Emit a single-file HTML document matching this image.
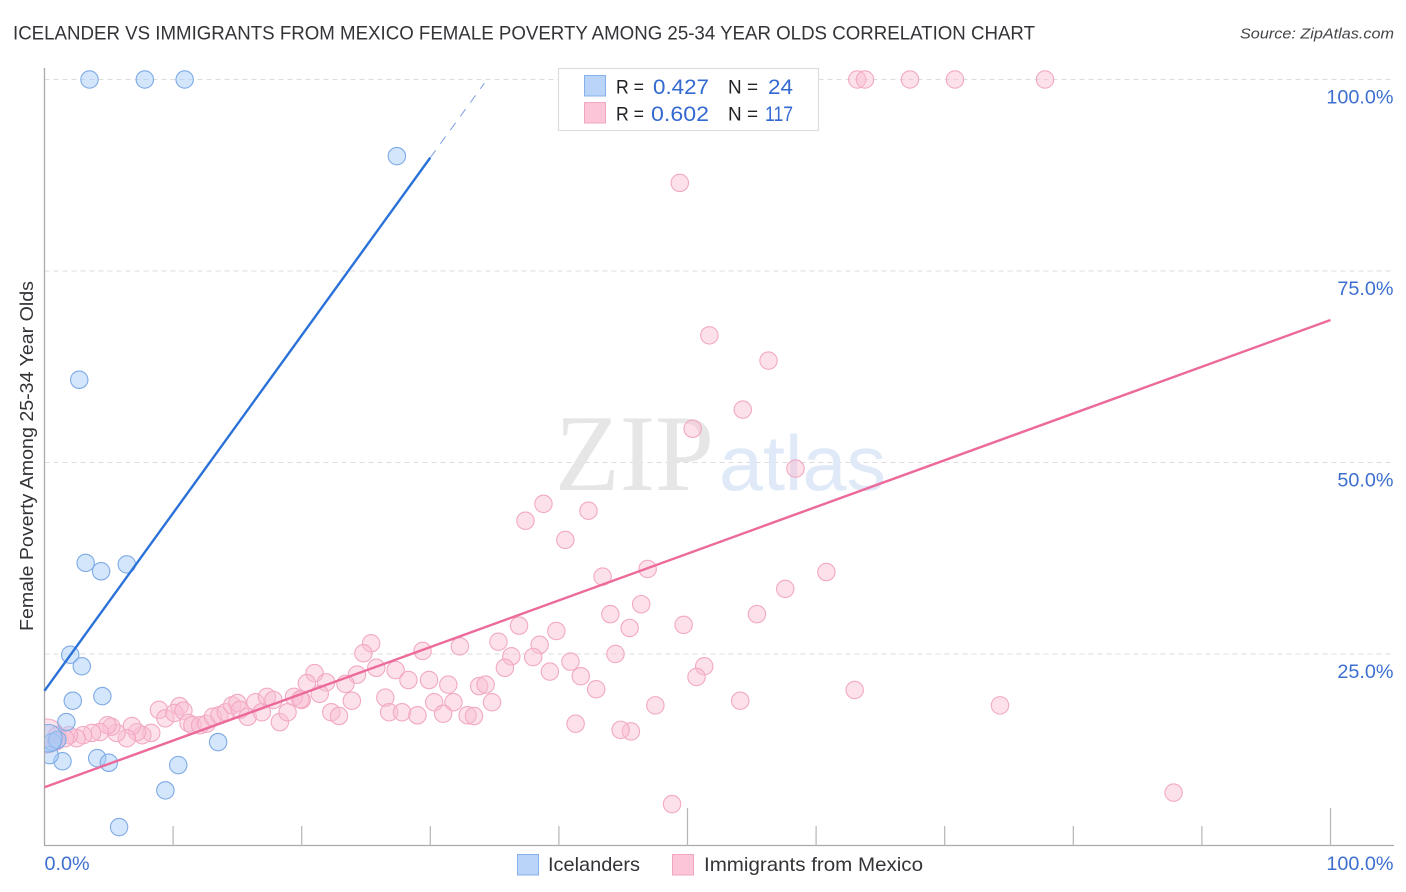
<!DOCTYPE html>
<html lang="en">
<head>
<meta charset="utf-8">
<title>Icelander vs Immigrants from Mexico Correlation Chart</title>
<style>
html,body{margin:0;padding:0;background:#fff;}
svg{display:block;font-family:"Liberation Sans",sans-serif;}
</style>
</head>
<body>
<svg id="chart" xmlns="http://www.w3.org/2000/svg" width="1406" height="892" viewBox="0 0 1406 892">
  <defs>
    <clipPath id="plot-clip"><rect x="45" y="60" width="1350" height="786"/></clipPath>
  </defs>
  <rect x="0" y="0" width="1406" height="892" fill="#ffffff"/>
  <text x="13" y="39.5" font-size="19.5" fill="#333338" textLength="1022" lengthAdjust="spacingAndGlyphs">ICELANDER VS IMMIGRANTS FROM MEXICO FEMALE POVERTY AMONG 25-34 YEAR OLDS CORRELATION CHART</text>
  <text x="1394" y="38.5" font-size="15" font-style="italic" fill="#444449" text-anchor="end" textLength="154" lengthAdjust="spacingAndGlyphs">Source: ZipAtlas.com</text>
  <g id="grid"></g>
  <g>
    <text x="555" y="490" font-family="'Liberation Serif',serif" font-size="109" fill="#e6e6e6" textLength="159" lengthAdjust="spacingAndGlyphs">ZIP</text>
    <text x="719" y="490" font-family="'Liberation Sans',sans-serif" font-size="78" fill="#dfe9f8" textLength="167" lengthAdjust="spacingAndGlyphs">atlas</text>
  </g>
  <g id="axes"></g>
  <g id="mex-points" clip-path="url(#plot-clip)"></g>
  <g id="ice-points" clip-path="url(#plot-clip)"></g>
  <g id="trends"></g>
  <g id="tick-labels"></g>
  <text transform="translate(33,456) rotate(-90)" font-size="18" fill="#333338" text-anchor="middle" textLength="350" lengthAdjust="spacingAndGlyphs">Female Poverty Among 25-34 Year Olds</text>
  <g>
    <rect x="558.5" y="68.5" width="260" height="62" fill="#ffffff" stroke="#dddddd" stroke-width="1.2"/>
    <rect x="584.5" y="75.5" width="21" height="20.5" fill="#b9d4f8" stroke="#85b0ea"/>
    <rect x="584.5" y="102.5" width="21" height="20.5" fill="#fcc5d8" stroke="#f2a6c0"/>
    <g font-size="19.5" fill="#222226">
      <text x="616" y="93.5" textLength="28" lengthAdjust="spacingAndGlyphs">R =</text>
      <text x="728" y="93.5" textLength="30" lengthAdjust="spacingAndGlyphs">N =</text>
      <text x="616" y="120.5" textLength="28" lengthAdjust="spacingAndGlyphs">R =</text>
      <text x="728" y="120.5" textLength="30" lengthAdjust="spacingAndGlyphs">N =</text>
    </g>
    <g font-size="21" fill="#3369d1">
      <text x="653" y="94" textLength="56" lengthAdjust="spacingAndGlyphs">0.427</text>
      <text x="768" y="94" textLength="25" lengthAdjust="spacingAndGlyphs">24</text>
      <text x="651" y="121" textLength="58" lengthAdjust="spacingAndGlyphs">0.602</text>
      <text x="765" y="121" textLength="28" lengthAdjust="spacingAndGlyphs">117</text>
    </g>
  </g>
  <g>
    <rect x="517.5" y="854.5" width="21" height="20.5" fill="#b9d4f8" stroke="#85b0ea"/>
    <text x="548" y="871" font-size="19.5" fill="#333338" textLength="92" lengthAdjust="spacingAndGlyphs">Icelanders</text>
    <rect x="672.5" y="854.5" width="21" height="20.5" fill="#fcc5d8" stroke="#f2a6c0"/>
    <text x="704" y="871" font-size="19.5" fill="#333338" textLength="219" lengthAdjust="spacingAndGlyphs">Immigrants from Mexico</text>
  </g>
</svg>
<script>
var xTickValues = [10, 20, 30, 40, 50, 60, 70, 80, 90, 100];
var xMajorTicks = [50, 100];
var xTickLabelValues = [0, 100];
var xTickLabels = ["0.0%", "100.0%"];
var yGridValues = [25, 50, 75, 100];
var yTickLabels = ["25.0%", "50.0%", "75.0%", "100.0%"];

var iceX = [3.5, 7.8, 10.9, 27.4, 2.7, 3.2, 4.4, 6.4, 2.0, 2.9, 2.2, 4.5, 1.7, 13.5, 10.4, 9.4, 5.8, 4.1, 5.0, 1.4, 0.4, 0.6, 1.0, 0.3];
var iceY = [100, 100, 100, 90.0, 60.8, 36.9, 35.8, 36.7, 24.9, 23.4, 18.9, 19.5, 16.1, 13.5, 10.5, 7.2, 2.4, 11.4, 10.8, 11.0, 11.8, 13.5, 13.8, 14.0];
var iceWeight = [1, 1, 1, 1, 1, 1, 1, 1, 1, 1, 1, 1, 1, 1, 1, 1, 1, 1, 1, 1, 1, 1, 1, 2.5];

var mexX = [0.2, 63.2, 63.8, 67.3, 70.8, 77.8, 49.4, 51.7, 56.3, 54.3, 50.4, 58.4, 38.8, 37.4, 42.3, 40.5, 43.4, 46.9, 46.4, 44.0, 45.5, 49.7, 57.6, 60.8, 55.4, 36.9, 39.8, 38.5, 35.3, 36.3, 35.8, 38.0, 40.9, 44.4, 39.3, 41.7, 42.9, 51.3, 50.7, 63.0, 54.1, 74.3, 87.8, 48.8, 47.5, 45.6, 44.8, 41.3,
  25.4, 24.8, 21.0, 20.4, 21.9, 24.3, 25.8, 23.4, 27.3, 29.4, 32.3, 28.3, 29.9, 31.4, 33.8, 34.3, 21.4, 23.9, 26.5, 30.3, 31.8, 34.8, 22.3, 22.9, 26.8, 27.8, 29.0, 31.0, 32.9, 33.4, 20.0,
  8.9, 9.4, 10.5, 10.1, 10.8, 11.2, 11.5, 12.1, 12.6, 13.1, 13.6, 14.1, 14.6, 15.0, 15.2, 15.8, 16.4, 16.9, 17.3, 17.8, 18.3, 18.9, 19.4, 19.9,
  8.3, 7.6, 7.2, 6.8, 6.4, 5.6, 5.2, 4.9, 4.3, 3.7, 3.0, 2.5, 1.9, 1.6, 1.0, 0.9, 0.9, 0.9];
var mexY = [14.3, 100, 100, 100, 100, 100, 86.5, 66.6, 63.3, 56.9, 54.4, 49.2, 44.6, 42.4, 43.7, 39.9, 35.1, 36.1, 31.5, 30.2, 28.4, 28.8, 33.5, 35.7, 30.2, 28.7, 28.0, 26.2, 26.6, 24.7, 23.2, 24.6, 24.0, 25.0, 22.7, 22.1, 20.4, 23.4, 22.0, 20.3, 18.9, 18.3, 6.9, 5.4, 18.3, 14.9, 15.1, 15.9,
  26.4, 25.1, 22.5, 21.2, 21.3, 22.3, 23.2, 21.1, 22.9, 25.4, 26.0, 21.6, 21.6, 21.0, 20.8, 21.0, 19.8, 18.9, 19.3, 18.7, 18.7, 18.7, 17.4, 16.9, 17.4, 17.4, 17.0, 17.2, 17.0, 16.9, 19.0,
  17.7, 16.6, 18.2, 17.3, 17.6, 16.0, 15.7, 15.7, 15.9, 16.8, 17.0, 17.4, 18.3, 18.6, 17.7, 16.8, 18.7, 17.4, 19.4, 19.0, 16.1, 17.4, 19.4, 19.1,
  14.7, 14.4, 14.8, 15.6, 14.0, 14.7, 15.5, 15.7, 14.8, 14.7, 14.4, 14.0, 14.4, 14.0, 14.4, 13.6, 13.6, 13.6];
var mexWeight = [3.8];

var iceTrendX = [0, 30];
var iceTrendY = [20.2, 89.8];
var iceTrendDashX = [30, 34.2];
var iceTrendDashY = [89.8, 99.5];
var mexTrendX = [0, 100];
var mexTrendY = [7.6, 68.6];

var SVGNS = "http://www.w3.org/2000/svg";
function sx(v) { return 44.5 + v * 12.86; }
function sy(v) { return 845.5 - v * 7.66; }
function make(parentId, tag, attrs) {
  var el = document.createElementNS(SVGNS, tag);
  for (var k in attrs) { el.setAttribute(k, attrs[k]); }
  document.getElementById(parentId).appendChild(el);
  return el;
}

yGridValues.forEach(function (v) {
  var el = make("grid", "line", {x1: 44.5, x2: 1393, y1: sy(v), y2: sy(v), stroke: "#dcdcdc", "stroke-width": 1, "stroke-dasharray": "5 4"});
  
  
});

var yAxis = make("axes", "line", {x1: 44.5, x2: 44.5, y1: 68, y2: 846, stroke: "#aaaaaa", "stroke-width": 1.3});


var xAxis = make("axes", "line", {x1: 44, x2: 1394, y1: 845.5, y2: 845.5, stroke: "#aaaaaa", "stroke-width": 1.3});


xTickValues.forEach(function (v) {
  var top = xMajorTicks.indexOf(v) >= 0 ? 808 : 826;
  var el = make("axes", "line", {x1: sx(v), x2: sx(v), y1: top, y2: 845.5, stroke: "#b5b5b5", "stroke-width": 1.2});
  
  
});

function drawPoints(groupId, xs, ys, weights, fill, stroke, name) {
  xs.forEach(function (x, i) {
    var w = weights[i] || 1;
    var el = make(groupId, "circle", {cx: sx(x), cy: sy(ys[i]), r: w > 1 ? 8.7 * Math.sqrt(w) : 8.7, fill: fill, stroke: stroke, "stroke-width": 1.1});
    
    
  });
}
drawPoints("mex-points", mexX, mexY, mexWeight, "rgba(249,190,212,0.48)", "#f2a9c3", "immigrants-from-mexico-point");
drawPoints("ice-points", iceX, iceY, iceWeight, "rgba(165,203,246,0.48)", "#7daae6", "icelanders-point");

var iceLine = make("trends", "line", {x1: sx(iceTrendX[0]), y1: sy(iceTrendY[0]), x2: sx(iceTrendX[1]), y2: sy(iceTrendY[1]), stroke: "#2a72d8", "stroke-width": 2.4});


var iceDash = make("trends", "line", {x1: sx(iceTrendDashX[0]), y1: sy(iceTrendDashY[0]), x2: sx(iceTrendDashX[1]), y2: sy(iceTrendDashY[1]), stroke: "#7c9fe0", "stroke-width": 1, "stroke-dasharray": "9 8"});


var mexLine = make("trends", "line", {x1: sx(mexTrendX[0]), y1: sy(mexTrendY[0]), x2: sx(mexTrendX[1]), y2: sy(mexTrendY[1]), stroke: "#ec6a9a", "stroke-width": 2.4});



yTickLabels.forEach(function (label, i) {
  var el = make("tick-labels", "text", {x: 1393.5, y: sy(yGridValues[i]) + 24, "font-size": 19.8, fill: "#3d6fd0", "text-anchor": "end"});
  el.textContent = label;
  
  
});
xTickLabels.forEach(function (label, i) {
  var isFirst = xTickLabelValues[i] === 0;
  var el = make("tick-labels", "text", {x: isFirst ? 44.5 : 1393.5, y: 870, "font-size": 19.8, fill: "#3d6fd0", "text-anchor": isFirst ? "start" : "end"});
  el.textContent = label;
  
  
});
</script>
</body>
</html>
